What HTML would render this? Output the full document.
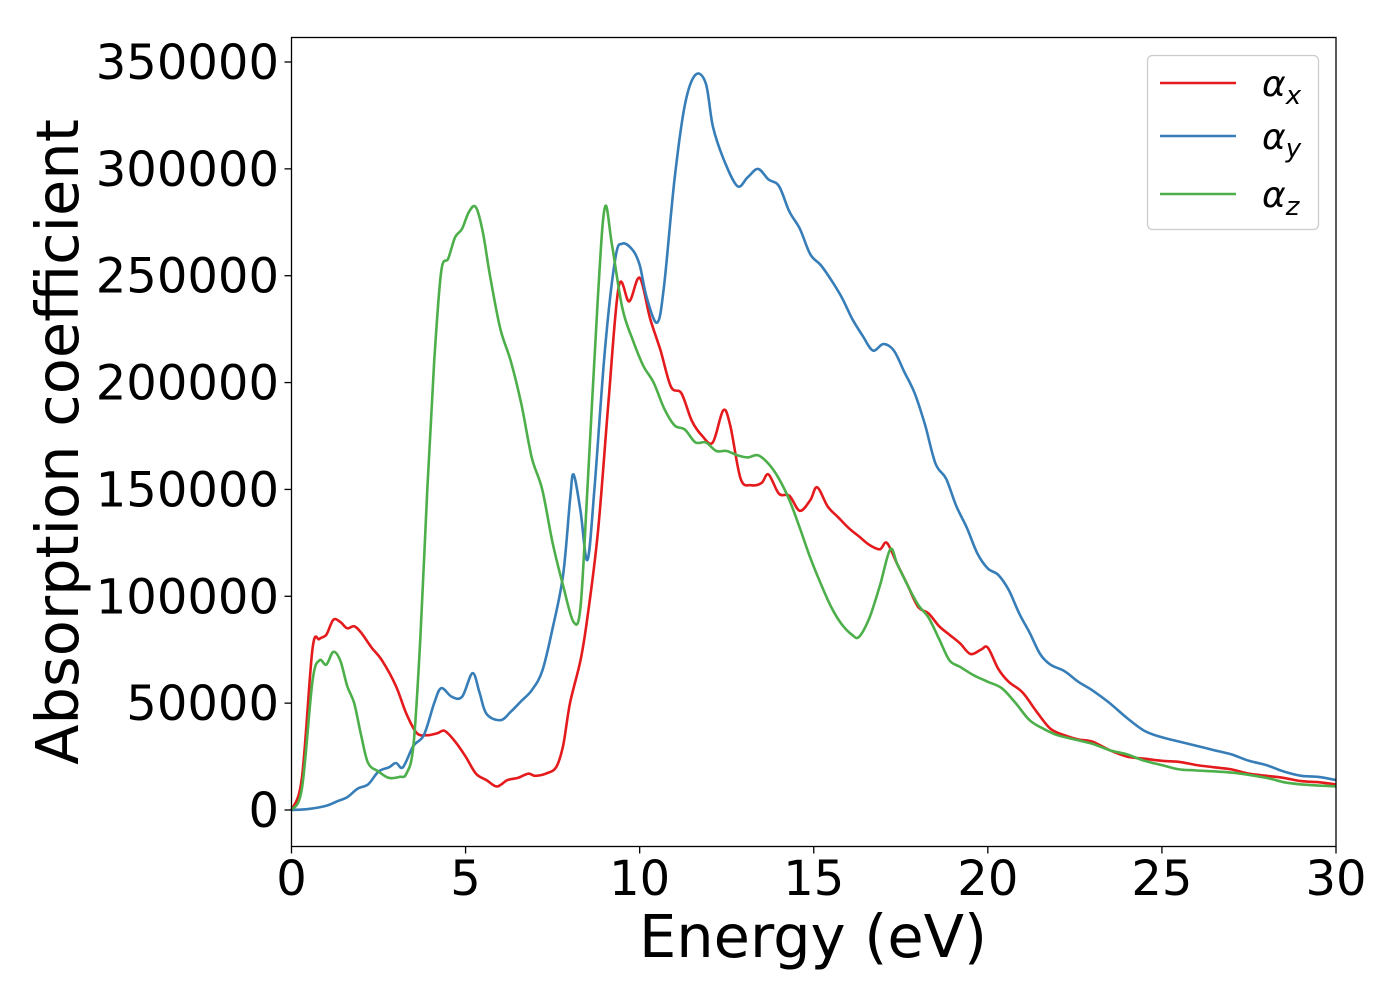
<!DOCTYPE html>
<html><head><meta charset="utf-8"><style>
html,body{margin:0;padding:0;background:#fff;}
svg{display:block;font-family:"DejaVu Sans","Liberation Sans",sans-serif;}
</style></head><body>
<svg id="chart" width="1400" height="1000" viewBox="0 0 1400 1000" xmlns="http://www.w3.org/2000/svg">
<rect x="0" y="0" width="1400" height="1000" fill="#fff"/>
<g id="series"></g>
<rect x="291.5" y="37.5" width="1044.5" height="809" fill="none" stroke="#000" stroke-width="1.3"/>
<g id="xticks"></g>
<g id="yticks"></g>
<text x="813" y="957" font-size="59" text-anchor="middle">Energy (eV)</text>
<text x="0" y="0" font-size="59" text-anchor="middle" transform="translate(78,442) rotate(-90)">Absorption coefficient</text>
<g>
<rect x="1147.5" y="55.5" width="171" height="174" rx="5" fill="#fff" stroke="#ccc" stroke-width="1.3"/>
<line x1="1160" y1="83" x2="1236" y2="83" stroke="#e41a1c" stroke-width="2.6"/>
<text x="1262" y="96" font-size="36" font-style="italic">α<tspan font-size="26" dy="8">x</tspan></text>
<line x1="1160" y1="136" x2="1236" y2="136" stroke="#377eb8" stroke-width="2.6"/>
<text x="1262" y="149" font-size="36" font-style="italic">α<tspan font-size="26" dy="8">y</tspan></text>
<line x1="1160" y1="194" x2="1236" y2="194" stroke="#4daf4a" stroke-width="2.6"/>
<text x="1262" y="207" font-size="36" font-style="italic">α<tspan font-size="26" dy="8">z</tspan></text>
</g>
</svg>
<script>
const xTicks=[0,5,10,15,20,25,30];
const yTicks=[0,50000,100000,150000,200000,250000,300000,350000];
const energyX=[0,0.3,0.6,0.8,1.0,1.2,1.4,1.6,1.8,2.0,2.3,2.6,3.0,3.3,3.6,3.9,4.2,4.4,4.7,5.0,5.3,5.6,5.9,6.2,6.5,6.8,7.0,7.3,7.6,7.8,8.0,8.3,8.5,8.8,9.1,9.4,9.7,10.0,10.3,10.6,10.9,11.2,11.5,11.8,12.1,12.4,12.6,12.9,13.2,13.5,13.7,14.0,14.3,14.6,14.9,15.1,15.4,15.7,16.0,16.3,16.6,16.9,17.1,17.4,17.7,18.0,18.3,18.6,18.9,19.2,19.5,19.8,20.0,20.3,20.6,21.0,21.4,21.8,22.2,22.6,23.0,23.5,24.0,24.5,25,25.5,26,26.5,27,27.5,28,28.5,29,29.5,30];
const alphaX=[0,15000,75000,80000,82000,89000,88000,85000,86000,83000,76000,70000,58000,45000,36000,35000,36000,37000,32000,25000,17000,14000,11000,14000,15000,17000,16000,17000,20000,30000,50000,70000,90000,130000,190000,245000,238000,249000,230000,215000,198000,195000,182000,175000,172000,187000,180000,155000,152000,153000,157000,148000,147000,140000,145000,151000,142000,137000,132000,128000,124000,122000,125000,115000,105000,95000,92000,86000,82000,78000,73000,75000,76000,66000,60000,55000,46000,38000,35000,33000,32000,28000,25000,24000,23000,22500,21000,20000,19000,17000,16000,15000,13500,13000,12000];
const energyY=[0,0.5,1,1.3,1.6,1.9,2.2,2.5,2.8,3.0,3.2,3.5,3.8,4.1,4.3,4.6,4.9,5.2,5.4,5.6,6.0,6.3,6.6,6.9,7.2,7.5,7.8,8.0,8.1,8.3,8.5,8.7,9.0,9.3,9.5,9.8,10.0,10.2,10.5,10.7,11.0,11.3,11.6,11.9,12.1,12.4,12.8,13.1,13.4,13.7,14.0,14.3,14.6,14.9,15.2,15.5,15.8,16.1,16.4,16.7,17.0,17.3,17.6,17.9,18.2,18.5,18.8,19.1,19.4,19.7,20.0,20.3,20.6,20.9,21.2,21.5,21.8,22.2,22.6,23.0,23.5,24.0,24.5,25,25.5,26,26.5,27,27.5,28,28.5,29,29.5,30];
const alphaY=[0,500,2000,4000,6000,10000,12000,18000,20000,22000,20000,30000,35000,50000,57000,53000,53000,64000,55000,45000,42000,46000,51000,56000,65000,85000,110000,145000,157000,140000,117000,150000,215000,258000,265000,262000,255000,240000,228000,245000,295000,330000,344000,340000,320000,305000,292000,296000,300000,295000,292000,280000,272000,260000,255000,248000,240000,230000,222000,215000,218000,215000,205000,195000,180000,162000,155000,142000,132000,120000,113000,110000,103000,92000,83000,73000,68000,65000,60000,56000,50000,43000,37000,34000,32000,30000,28000,26000,23000,21000,18000,16000,15500,14000];
const energyZ=[0,0.3,0.6,0.8,1.0,1.2,1.4,1.6,1.8,2.0,2.2,2.5,2.8,3.1,3.3,3.5,3.7,3.9,4.1,4.3,4.5,4.7,4.9,5.1,5.3,5.5,5.7,6.0,6.3,6.6,6.9,7.2,7.5,7.8,8.1,8.3,8.5,8.8,9.0,9.2,9.5,9.8,10.1,10.4,10.7,11.0,11.3,11.6,11.9,12.2,12.5,12.8,13.1,13.4,13.7,14.0,14.3,14.6,14.9,15.2,15.5,15.8,16.1,16.3,16.6,16.9,17.2,17.4,17.7,18.0,18.3,18.6,18.9,19.2,19.6,20.0,20.4,20.8,21.2,21.6,22.0,22.5,23.0,23.5,24.0,24.5,25,25.5,26,27,28,28.5,29,30];
const alphaZ=[0,10000,60000,70000,68000,74000,70000,58000,50000,35000,22000,18000,15000,15500,17000,30000,80000,150000,210000,252000,258000,268000,272000,280000,282000,270000,250000,225000,210000,190000,165000,150000,125000,105000,88000,95000,150000,240000,282000,265000,235000,220000,208000,200000,188000,180000,178000,172000,172000,168000,168000,166000,165000,166000,162000,155000,145000,132000,118000,106000,95000,87000,82000,81000,90000,105000,122000,115000,105000,96000,90000,80000,70000,67000,63000,60000,57000,50000,42000,38000,35000,33000,31000,28000,26000,23000,21000,19000,18500,17500,15000,13000,12000,11000];

const X0=291.5,X1=1336,Y0=810,PER=(810-62)/350000;
function sx(v){return X0+(X1-X0)*v/30;}
function sy(v){return Y0-v*PER;}
const NS="http://www.w3.org/2000/svg";
function mk(t,a){const e=document.createElementNS(NS,t);for(const k in a)e.setAttribute(k,a[k]);return e;}
const xg=document.getElementById('xticks'),yg=document.getElementById('yticks'),sg=document.getElementById('series');
xTicks.forEach(v=>{
 const l=mk('line',{x1:sx(v),x2:sx(v),y1:846.5,y2:853.5,stroke:'#000','stroke-width':1.3});
 
 
 xg.appendChild(l);
 const t=mk('text',{x:sx(v),y:895,'font-size':48,'text-anchor':'middle'});
 
 
 t.textContent=v;xg.appendChild(t);
});
yTicks.forEach(v=>{
 const l=mk('line',{x1:284.5,x2:291.5,y1:sy(v),y2:sy(v),stroke:'#000','stroke-width':1.3});
 
 
 yg.appendChild(l);
 const t=mk('text',{x:279,y:sy(v)+17,'font-size':48,'text-anchor':'end'});
 
 
 t.textContent=v;yg.appendChild(t);
});
function path(xs,ys){
 const p=xs.map((x,i)=>[sx(x),sy(ys[i])]);
 let d='M'+p[0][0].toFixed(1)+','+p[0][1].toFixed(1);
 for(let i=0;i<p.length-1;i++){
  const p0=p[Math.max(0,i-1)],p1=p[i],p2=p[i+1],p3=p[Math.min(p.length-1,i+2)];
  const c1x=p1[0]+(p2[0]-p0[0])/6,c1y=p1[1]+(p2[1]-p0[1])/6;
  const c2x=p2[0]-(p3[0]-p1[0])/6,c2y=p2[1]-(p3[1]-p1[1])/6;
  d+=' C'+c1x.toFixed(1)+','+c1y.toFixed(1)+' '+c2x.toFixed(1)+','+c2y.toFixed(1)+' '+p2[0].toFixed(1)+','+p2[1].toFixed(1);
 }
 return d;
}
[[energyX,alphaX,'#e41a1c','series-alpha-x'],[energyY,alphaY,'#377eb8','series-alpha-y'],[energyZ,alphaZ,'#4daf4a','series-alpha-z']].forEach(s=>{
 const e=mk('path',{d:path(s[0],s[1]),fill:'none',stroke:s[2],'stroke-width':2.6,'stroke-linejoin':'round'});
 
 
 sg.appendChild(e);
});
</script>
</body></html>
